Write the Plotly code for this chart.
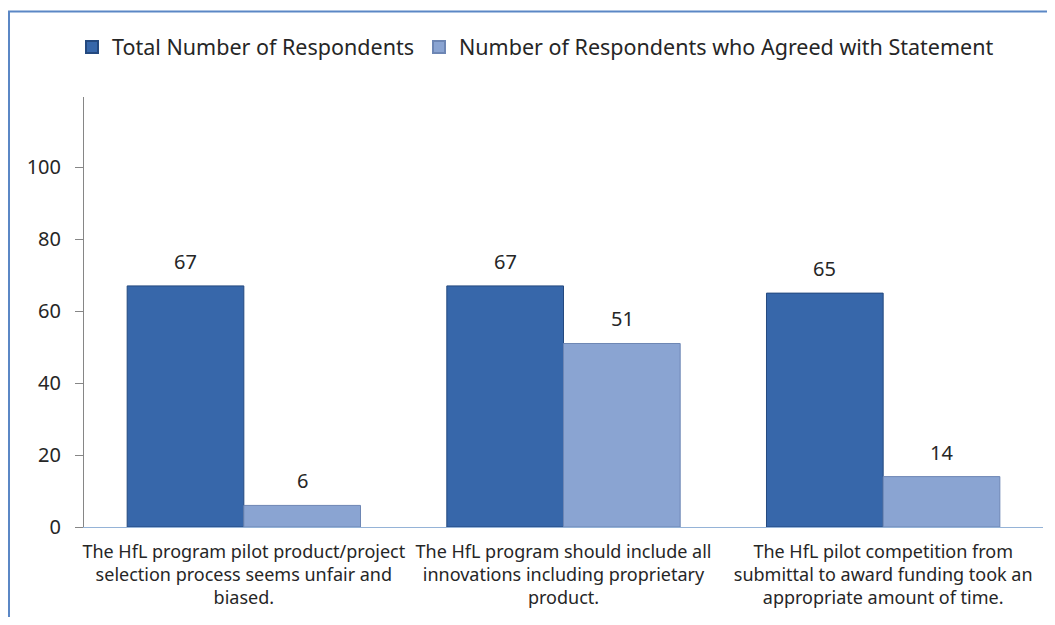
import plotly.graph_objects as go

categorias = [
    "The HfL program pilot product/project<br>selection process seems unfair and<br>biased.",
    "The HfL program should include all<br>innovations including proprietary<br>product.",
    "The HfL pilot competition from<br>submittal to award funding took an<br>appropriate amount of time.",
]
total = [67, 67, 65]
de_acuerdo = [6, 51, 14]

nombres = ["Total Number of Respondents", "Number of Respondents who Agreed with Statement"]
posiciones = list(range(len(categorias)))

fuente = "Noto Sans, Open Sans, sans-serif"

fig = go.Figure()
fig.add_trace(go.Bar(
    x=posiciones,
    y=total,
    name=nombres[0],
    marker=dict(color="#3767aa", line=dict(color="#24497f", width=1)),
))
fig.add_trace(go.Bar(
    x=posiciones,
    y=de_acuerdo,
    name=nombres[1],
    marker=dict(color="#8aa4d2", line=dict(color="#6d86b4", width=1)),
))

# etiquetas de valor encima de cada barra
anotaciones = []
ancho = 0.183
for i, (t, a) in enumerate(zip(total, de_acuerdo)):
    for xv, yv in [(i - ancho, t), (i + ancho, a)]:
        anotaciones.append(dict(
            x=xv, y=yv, text=str(yv), showarrow=False,
            yanchor="bottom", yshift=9,
            font=dict(size=20, color="#262626", family=fuente),
        ))

fig.update_layout(
    width=1039,
    height=609,
    barmode="group",
    bargap=0.27,
    bargroupgap=0,
    plot_bgcolor="white",
    paper_bgcolor="white",
    margin=dict(l=76, r=4, t=89, b=89.5),
    font=dict(family=fuente, color="#262626"),
    showlegend=True,
    legend=dict(
        orientation="h",
        x=-0.0125, xanchor="left",
        y=1.116, yanchor="middle",
        font=dict(size=21.5, color="#262626"),
        bgcolor="rgba(0,0,0,0)",
        itemsizing="constant",
        traceorder="normal",
    ),
    annotations=anotaciones,
    shapes=[dict(
        type="rect", xref="paper", yref="paper",
        x0=-0.0782, x1=1.2, y0=-0.4, y1=1.199,
        line=dict(color="#5b87c5", width=2),
        fillcolor="rgba(0,0,0,0)",
        layer="above",
    )],
)

fig.update_xaxes(
    range=[-0.5, 2.5],
    tickvals=posiciones,
    ticktext=categorias,
    showline=True,
    linecolor="#95b3d7",
    linewidth=1,
    ticks="",
    showgrid=False,
    zeroline=False,
    automargin=False,
    ticklabelstandoff=8,
    tickfont=dict(size=18, color="#262626"),
)

fig.update_yaxes(
    range=[0, 119.5],
    tickvals=[0, 20, 40, 60, 80, 100],
    showline=True,
    linecolor="#868686",
    linewidth=1,
    ticks="outside",
    ticklen=8,
    tickcolor="#868686",
    showgrid=False,
    zeroline=False,
    automargin=False,
    ticklabelstandoff=10,
    tickfont=dict(size=20, color="#262626"),
)

fig.write_html("out.html")
